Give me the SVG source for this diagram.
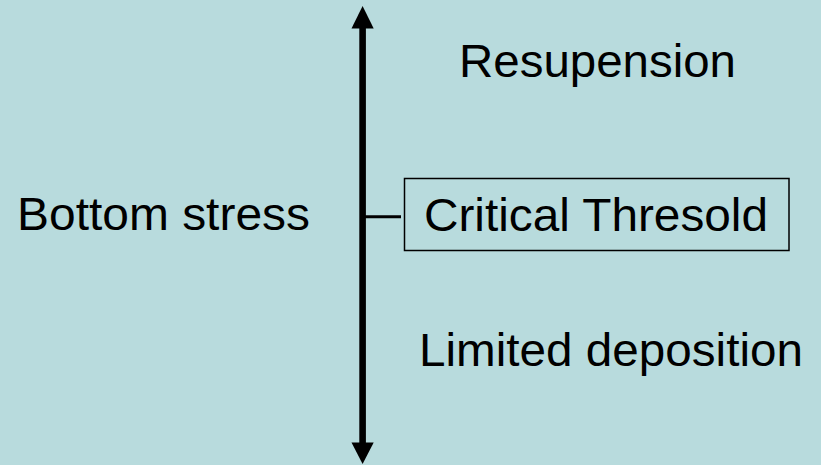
<svg xmlns="http://www.w3.org/2000/svg" width="821" height="465" viewBox="0 0 821 465">
<style>
.t{font-family:"Liberation Sans",Arial,sans-serif;font-size:46px;fill:#000}
</style>
<rect width="821" height="465" fill="#B8DBDD"/>
<g id="connectors">
<rect x="359.3" y="26" width="6.6" height="419" fill="#000"/>
<polygon points="362.6,6 351.5,28.5 373.7,28.5" fill="#000"/>
<polygon points="362.6,464 351.5,442.5 373.7,442.5" fill="#000"/>
<line x1="365" y1="216.7" x2="401" y2="216.7" stroke="#000" stroke-width="3"/>
</g>
<g id="axis-label"><text class="t" x="17" y="230" textLength="293" lengthAdjust="spacingAndGlyphs">Bottom stress</text></g>
<g id="resuspension"><text class="t" x="459" y="77" textLength="277" lengthAdjust="spacingAndGlyphs">Resupension</text></g>
<g id="threshold">
<rect x="404.5" y="178.5" width="384.5" height="72" fill="none" stroke="#000" stroke-width="1.5"/>
<text class="t" x="424" y="231" textLength="344" lengthAdjust="spacingAndGlyphs">Critical Thresold</text>
</g>
<g id="deposition"><text class="t" x="419" y="366" textLength="384" lengthAdjust="spacingAndGlyphs">Limited deposition</text></g>
</svg>
